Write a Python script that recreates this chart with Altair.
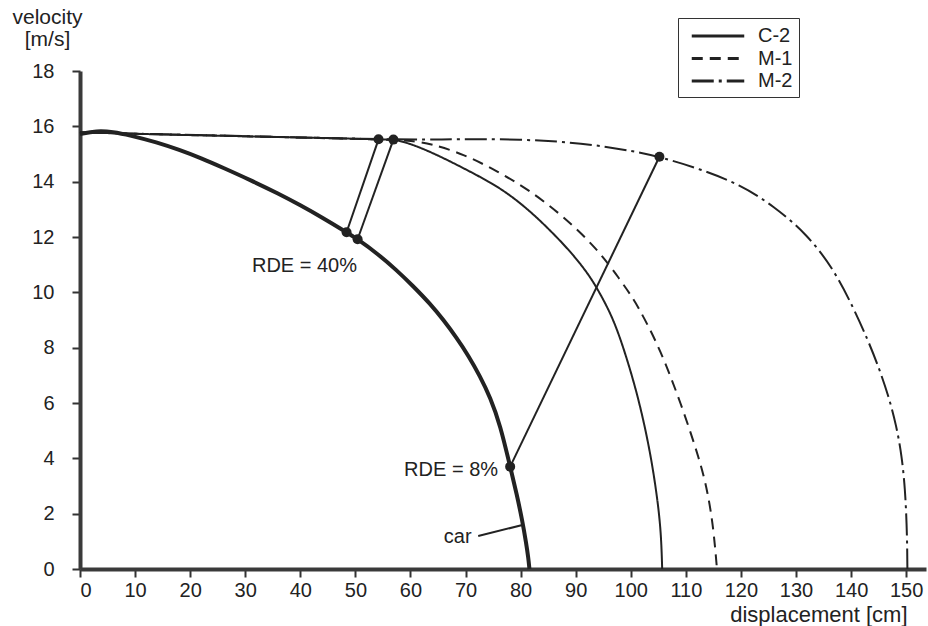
import altair as alt
import pandas as pd

FONT = "Liberation Sans"
INK = "#222222"

# Vehicle (car) velocity over displacement
car_d = [0, 3, 6, 9, 14, 18, 22, 26, 31, 36, 40, 44, 48.4, 50.4, 54, 57.5, 60.5, 63.6, 66, 68.4,
         70.5, 72.6, 74.5, 76.3, 78.1, 79.3, 80.3, 81.0, 81.4, 81.6]
car_v = [15.72, 15.84, 15.8, 15.68, 15.42, 15.15, 14.85, 14.5, 14.05, 13.57, 13.15, 12.7, 12.17, 11.92,
         11.4, 10.8, 10.22, 9.58, 9.0, 8.35, 7.72, 6.98, 6.2, 5.2, 3.7, 2.7, 1.75, 0.95, 0.4, 0]

# Occupant velocity over displacement for three restraint systems
c2_d = [0, 20, 40, 54.2, 56.9, 58.7, 62, 66.6, 72.6, 75.7, 78.7, 81.7, 84.7, 88, 90.8, 93, 95, 97,
        99, 101, 102.5, 103.7, 104.6, 105.2, 105.55, 105.7]
c2_v = [15.78, 15.68, 15.6, 15.53, 15.52, 15.45, 15.22, 14.8, 14.18, 13.83, 13.42, 12.93, 12.37, 11.7,
        11.05, 10.45, 9.75, 8.95, 7.8, 6.45, 5.2, 4.0, 2.85, 1.9, 1.0, 0]

m1_d = [0, 56.9, 60, 63.6, 69.6, 75.7, 81.7, 87.8, 93.8, 98.1, 100.5, 102.3, 105.3, 109, 112.6, 114,
        115, 115.65]
m1_v = [15.78, 15.52, 15.48, 15.38, 15.0, 14.39, 13.68, 12.74, 11.6, 10.45, 9.76, 9.12, 7.95, 6.05, 3.9,
        2.74, 1.5, 0]

m2_d = [0, 56.9, 65, 72.6, 84.7, 93.8, 100, 105.2, 112.6, 119.8, 125.9, 132, 136.8, 140.4, 143, 145,
        146.8, 148.2, 149.2, 149.8, 150.1, 150.2, 150.22]
m2_v = [15.78, 15.52, 15.52, 15.55, 15.5, 15.32, 15.12, 14.9, 14.46, 13.9, 13.13, 12.1, 10.85, 9.45, 8.3,
        7.3, 6.25, 5.2, 4.1, 2.9, 1.6, 0.6, 0]

restraints = ["C-2", "M-1", "M-2"]
dashes = [[1, 0], [11, 7], [22, 5, 3, 5]]

# Links between car and occupant states (restraint deployment efficiency)
link_d1 = [48.4, 50.4, 78.1]
link_v1 = [12.17, 11.92, 3.7]
link_d2 = [54.2, 56.9, 105.2]
link_v2 = [15.53, 15.52, 14.9]

# Annotation texts
note_text = ["RDE = 40%", "RDE = 8%", "car"]
note_d = [50.3, 75.9, 71.1]
note_v = [10.95, 3.58, 1.17]

# Leader line for the "car" label
leader_d = [72.3, 80.5]
leader_v = [1.19, 1.6]

car_df = pd.DataFrame({"d": car_d, "v": car_v})
occ_df = pd.concat([
    pd.DataFrame({"d": c2_d, "v": c2_v, "series": "C-2", "order": range(len(c2_d))}),
    pd.DataFrame({"d": m1_d, "v": m1_v, "series": "M-1", "order": range(len(m1_d))}),
    pd.DataFrame({"d": m2_d, "v": m2_v, "series": "M-2", "order": range(len(m2_d))}),
])
link_df = pd.DataFrame({"d": link_d1, "v": link_v1, "d2": link_d2, "v2": link_v2})
dot_df = pd.DataFrame({"d": link_d1 + link_d2, "v": link_v1 + link_v2})
note_df = pd.DataFrame({"d": note_d, "v": note_v, "t": note_text})
leader_df = pd.DataFrame({"d": leader_d, "v": leader_v})

x_axis = alt.Axis(
    values=list(range(0, 151, 10)), title="displacement [cm]",
    titleX=827, titleY=52, titleAlign="right", titleBaseline="alphabetic",
    titleFontSize=22, titleFontWeight="normal", titleFont=FONT, titleColor=INK,
    labelFont=FONT, labelFontSize=20, labelColor=INK, labelPadding=3,
    tickSize=8, tickWidth=2, tickColor="#333333",
    domainWidth=4, domainColor="#3a3a3a", grid=False,
)
y_axis = alt.Axis(
    values=list(range(0, 19, 2)), title=["velocity", "[m/s]"],
    titleAngle=0, titleX=-33, titleY=-48, titleAlign="center", titleBaseline="alphabetic",
    titleLineHeight=22, titleFontSize=21, titleFontWeight="normal", titleFont=FONT, titleColor=INK,
    labelFont=FONT, labelFontSize=20, labelColor=INK, labelPadding=18,
    tickSize=8, tickWidth=2, tickColor="#333333",
    domainWidth=4, domainColor="#3a3a3a", grid=False,
)

x_enc = alt.X("d:Q", scale=alt.Scale(domain=[0, 153.6], nice=False, zero=False), axis=x_axis)
y_enc = alt.Y("v:Q", scale=alt.Scale(domain=[0, 18], nice=False, zero=False), axis=y_axis)

# Legend swatch: a horizontal stroke five units long, scaled by the symbol size
swatch = "M-2.5,0H2.5"

occupant = alt.Chart(occ_df).mark_line(color=INK, strokeWidth=2, interpolate="basis").encode(
    x=x_enc, y=y_enc,
    strokeDash=alt.StrokeDash(
        "series:N",
        scale=alt.Scale(domain=restraints, range=dashes),
        legend=alt.Legend(
            title=None, orient="none", legendX=598, legendY=-53,
            symbolType=swatch, symbolSize=441, symbolStrokeWidth=3,
            symbolStrokeColor=INK, symbolOffset=22,
            labelFont=FONT, labelFontSize=20, labelColor=INK, labelOffset=28,
            padding=6, rowPadding=0.5, strokeColor="#333333", fillColor="white",
        ),
    ),
    order="order:Q",
)

car = alt.Chart(car_df).mark_line(color=INK, strokeWidth=4, interpolate="basis").encode(
    x=x_enc, y=y_enc
)

links = alt.Chart(link_df).mark_rule(color=INK, strokeWidth=2).encode(
    x=x_enc, y=y_enc, x2="d2:Q", y2="v2:Q"
)

dots = alt.Chart(dot_df).mark_circle(color=INK, size=100, opacity=1).encode(x=x_enc, y=y_enc)

leader = alt.Chart(leader_df).mark_line(color=INK, strokeWidth=2).encode(x=x_enc, y=y_enc)

notes = alt.Chart(note_df).mark_text(
    font=FONT, fontSize=20, color=INK, align="right", baseline="middle"
).encode(x=x_enc, y=y_enc, text="t:N")

chart = alt.layer(occupant, car, links, leader, dots, notes).properties(
    width=846, height=498,
    padding={"left": 80, "top": 71, "right": 2, "bottom": 57},
    autosize=alt.AutoSizeParams(type="none"),
    background="white",
).configure_view(stroke=None)

chart.save("out.html", embed_options={"renderer": "svg", "actions": False})
